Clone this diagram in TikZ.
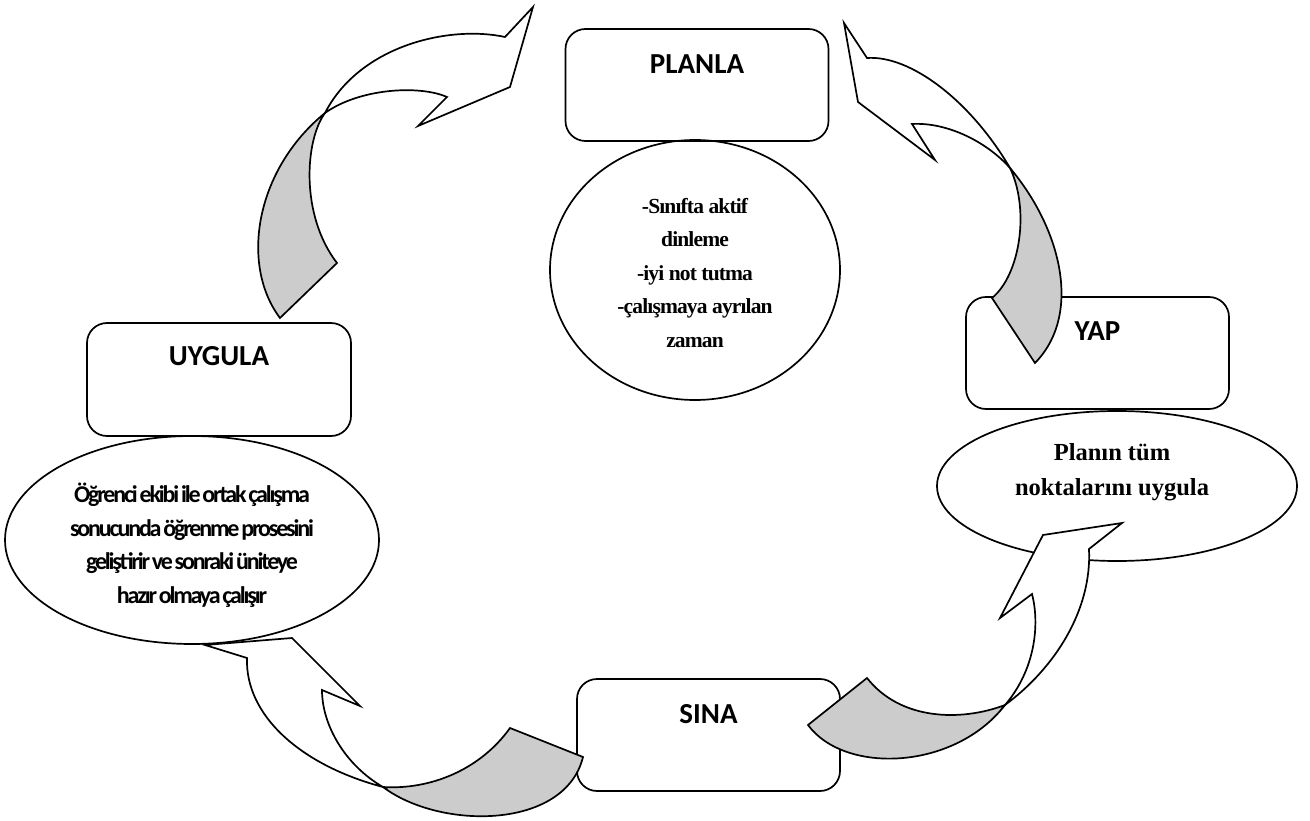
\documentclass[tikz,border=0pt]{standalone}
\usepackage{fontspec}
\setmainfont{Liberation Serif}
\newfontfamily\labelfont{Carlito}
\newfontfamily\serifbold{Liberation Serif}
\newfontfamily\serifnarrow[LetterSpace=-4]{Liberation Serif}
\newfontfamily\tightfont[LetterSpace=-9, WordSpace=0.55]{Carlito}
\usetikzlibrary{shapes.geometric}
\definecolor{shade}{RGB}{204,204,204}

\tikzset{
  stepbox/.style={draw, rounded corners=20pt, inner sep=0pt,
    minimum width=263pt, minimum height=112pt, line width=1.7pt},
  oval/.style={draw, ellipse, inner sep=0pt, line width=1.7pt},
  boxtext/.style={font=\labelfont\bfseries\fontsize{29}{34}\selectfont, inner sep=0pt},
  midtext/.style={font=\serifnarrow\bfseries\fontsize{21.5}{33.5}\selectfont, align=center, inner sep=0pt},
  righttext/.style={font=\serifbold\bfseries\fontsize{24.5}{35}\selectfont, align=center, inner sep=0pt},
  lefttext/.style={font=\tightfont\bfseries\fontsize{24}{33.5}\selectfont, align=center, inner sep=0pt},
  backpart/.style={draw, fill=shade, line width=1.7pt, line join=miter},
  frontpart/.style={draw, fill=white, line width=1.7pt, line join=miter},
}

\begin{document}
\begin{tikzpicture}[x=1pt, y=-1pt]
\useasboundingbox (0,0) rectangle (1310,821);

% the four stage boxes
\node[stepbox] (plan) at (697,85) {};
\node[stepbox, minimum width=264pt, minimum height=113pt] (apply) at (219,379.5) {};
\node[stepbox] (do) at (1097.5,353) {};
\node[stepbox] (test) at (708.5,735) {};

\node[boxtext] (planlabel) at (697,64) {PLANLA};
\node[boxtext] (applylabel) at (219,356) {UYGULA};
\node[boxtext] (dolabel) at (1097.5,331) {YAP};
\node[boxtext] (testlabel) at (708.5,714) {SINA};

% the explanation ovals
\node[oval, minimum width=290pt, minimum height=260pt] (planoval) at (695,270) {};
\node[oval, minimum width=360pt, minimum height=150pt] (dooval) at (1117,486) {};
\node[oval, minimum width=374pt, minimum height=208pt] (applyoval) at (192,540) {};

\node[midtext] (plantext) at (695,273)
  {-Sınıfta aktif\\dinleme\\-iyi not tutma\\-çalışmaya ayrılan\\zaman};
\node[righttext] (dotext) at (1112,472) {Planın tüm\\noktalarını uygula};
\node[lefttext] (applytext) at (192,545)
  {Öğrenci ekibi ile ortak çalışma\\sonucunda öğrenme prosesini\\geliştirir ve sonraki üniteye\\hazır olmaya çalışır};

% curved arrow from UYGULA up to PLANLA
\path[backpart] (280,318) .. controls (240,265) and (255,170) .. (325,113)
  .. controls (305,140) and (300,215) .. (337,263) -- cycle;
\path[frontpart] (325,113) .. controls (360,45) and (450,25) .. (505,37)
  -- (533,7) -- (510,87) -- (418,126) -- (447,97)
  .. controls (420,85) and (360,88) .. (325,113) -- cycle;

% curved arrow from YAP up to PLANLA
\path[backpart] (1010,168) .. controls (1062,230) and (1082,315) .. (1035,363)
  -- (992,298) .. controls (1020,275) and (1030,210) .. (1010,168) -- cycle;
\path[frontpart] (1010,168) .. controls (970,100) and (910,55) .. (867,58)
  -- (844,23) -- (858,102) -- (935,160) -- (912,124)
  .. controls (945,122) and (985,140) .. (1010,168) -- cycle;

% curved arrow from SINA up to the YAP oval
\path[backpart] (808,725) -- (867,678) .. controls (900,720) and (960,722) .. (1005,705)
  .. controls (955,770) and (845,775) .. (808,725) -- cycle;
\path[frontpart] (1005,705) .. controls (1055,668) and (1092,610) .. (1089,549)
  -- (1122,523) -- (1043,535) -- (1000,618) -- (1032,594)
  .. controls (1040,625) and (1035,670) .. (1005,705) -- cycle;

% curved arrow from SINA up to the UYGULA oval
\path[backpart] (383,787) .. controls (430,790) and (480,770) .. (510,728)
  -- (583,757) .. controls (565,830) and (440,830) .. (383,787) -- cycle;
\path[frontpart] (383,787) .. controls (300,765) and (245,715) .. (247,658)
  -- (205,645) -- (292,638) -- (360,706) -- (322,690)
  .. controls (322,725) and (345,765) .. (383,787) -- cycle;
\end{tikzpicture}
\end{document}
